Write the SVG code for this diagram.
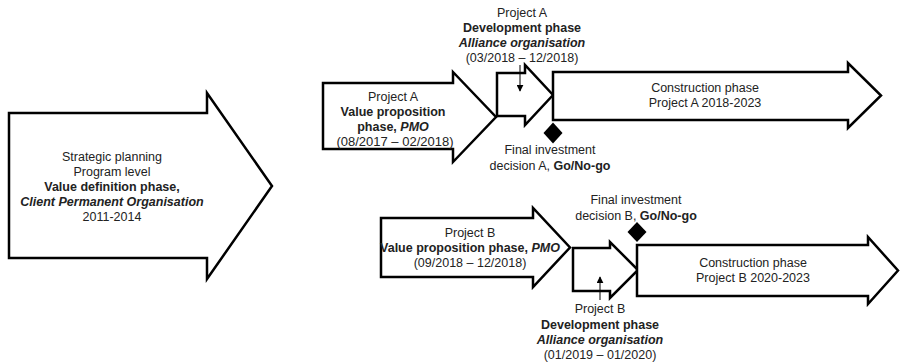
<svg xmlns="http://www.w3.org/2000/svg" width="900" height="364" viewBox="0 0 900 364">
<style>
.arr{fill:#fff;stroke:#000;stroke-width:2.5;stroke-linejoin:miter}
.dia{fill:#000}
text{font-family:"Liberation Sans",Arial,sans-serif;font-size:12.5px;fill:#222;text-anchor:middle}
.b{font-weight:bold}
.bi{font-weight:bold;font-style:italic}
.ptr{stroke:#000;stroke-width:1;fill:none}
</style>
<defs>
<marker id="ah" viewBox="0 0 10 10" refX="9" refY="5" markerWidth="7" markerHeight="7" orient="auto" markerUnits="userSpaceOnUse">
<path d="M0,0 L10,5 L0,10 Z" fill="#000"/>
</marker>
</defs>
<g id="strategic">
<path class="arr" d="M9,113 L207,113 L207,93 L272,186 L207,279 L207,258 L9,258 Z"/>
<text x="112" y="160.5">Strategic planning</text>
<text x="112" y="175.5">Program level</text>
<text x="112" y="190.5" class="b">Value definition phase,</text>
<text x="112" y="205.5" class="bi">Client Permanent Organisation</text>
<text x="112" y="220.5">2011-2014</text>
</g>
<g id="valueA">
<path class="arr" d="M323,83 L453,83 L453,72 L496,117 L453,162 L453,149 L323,149 Z"/>
<text x="393" y="101">Project A</text>
<text x="393" y="116" class="b">Value proposition</text>
<text x="393" y="131"><tspan class="b">phase, </tspan><tspan class="bi">PMO</tspan></text>
<text x="395" y="146" style="font-size:13px">(08/2017 – 02/2018)</text>
</g>
<g id="devA">
<path class="arr" d="M497,73 L525,73 L525,65 L553,95 L525,125 L525,116 L497,116 Z"/>
<text x="522" y="17">Project A</text>
<text x="522" y="32" class="b">Development phase</text>
<text x="522" y="47" class="bi">Alliance organisation</text>
<text x="522" y="62">(03/2018 – 12/2018)</text>
</g>
<g id="constructionA">
<path class="arr" d="M553,72 L848,72 L848,63 L881,95.5 L848,128 L848,120 L553,120 Z"/>
<text x="705" y="92">Construction phase</text>
<text x="705" y="107">Project A 2018-2023</text>
</g>
<g id="fidA">
<path class="dia" d="M553,122.5 L562.5,133 L553,143.5 L543.5,133 Z"/>
<text x="550" y="154">Final investment</text>
<text x="550" y="170">decision A, <tspan class="b">Go/No-go</tspan></text>
</g>
<g id="valueB">
<path class="arr" d="M381,218 L533,218 L533,208 L570,247.5 L533,287 L533,277 L381,277 Z"/>
<text x="470" y="237">Project B</text>
<text x="470" y="252"><tspan class="b">Value proposition  phase, </tspan><tspan class="bi">PMO</tspan></text>
<text x="470" y="267">(09/2018 – 12/2018)</text>
</g>
<g id="devB">
<path class="arr" d="M573,248 L610,248 L610,242 L638,270 L610,298 L610,291 L573,291 Z"/>
<text x="600" y="313">Project B</text>
<text x="600" y="329" class="b">Development phase</text>
<text x="600" y="344" class="bi">Alliance organisation</text>
<text x="600" y="359">(01/2019 – 01/2020)</text>
</g>
<g id="constructionB">
<path class="arr" d="M637,245 L868,245 L868,237 L898,270.5 L868,304 L868,296 L637,296 Z"/>
<text x="753" y="267">Construction phase</text>
<text x="753" y="282">Project B 2020-2023</text>
</g>
<g id="fidB">
<path class="dia" d="M637,222 L646.5,232 L637,242 L627.5,232 Z"/>
<text x="636" y="204">Final investment</text>
<text x="636" y="220">decision B, <tspan class="b">Go/No-go</tspan></text>
</g>
<g id="connectors">
<line class="ptr" x1="520" y1="65" x2="520" y2="91" marker-end="url(#ah)"/>
<line class="ptr" x1="600" y1="300" x2="600" y2="277" marker-end="url(#ah)"/>
</g>
</svg>
